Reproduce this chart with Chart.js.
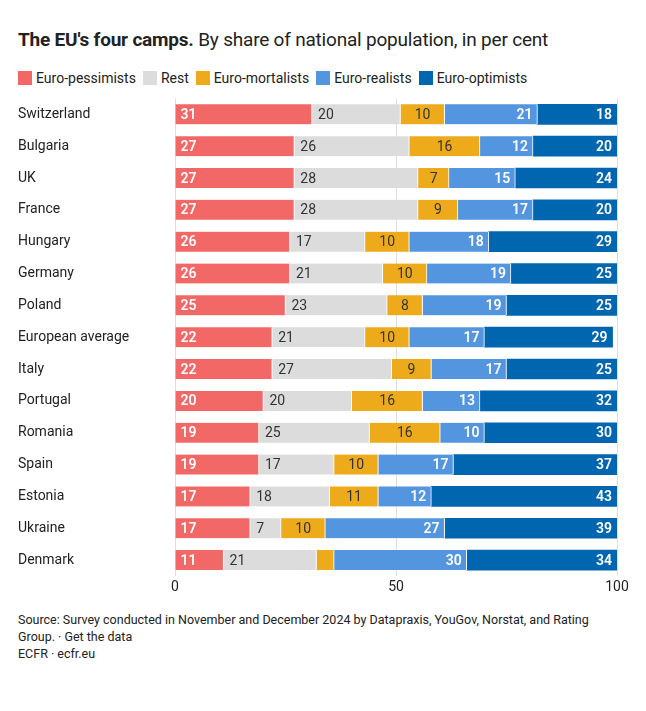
<!DOCTYPE html>
<html>
<head>
<meta charset="utf-8">
<script src="https://cdn.jsdelivr.net/npm/chart.js@4.4.1/dist/chart.umd.min.js"></script>
<style>
  html, body { margin: 0; padding: 0; background: #fff; }
  body { width: 646px; height: 711px; position: relative; overflow: hidden; font-family: Roboto, "Liberation Sans", sans-serif; color: #222; }
  #title { position: absolute; left: 18px; top: 28px; font-size: 19px; white-space: nowrap; letter-spacing: -0.2px; }
  #title b { font-weight: 700; }
  #legend { position: absolute; left: 18px; top: 70px; font-size: 14px; white-space: nowrap; display: flex; }
  #legend span.item { display: inline-flex; align-items: center; margin-right: 7px; }
  #legend span.sw { display: inline-block; width: 14px; height: 14px; margin-right: 4px; }
  #wrap { position: absolute; left: 0; top: 90px; width: 646px; height: 520px; }
  #footer { position: absolute; left: 18px; top: 611px; font-size: 12.5px; line-height: 17px; color: #222; width: 600px; }
</style>
</head>
<body>
<div id="title"><b>The EU's four camps.</b> By share of national population, in per cent</div>
<div id="legend"></div>
<div id="wrap"><canvas id="c"></canvas></div>
<div id="footer">Source: Survey conducted in November and December 2024 by Datapraxis, YouGov, Norstat, and Rating Group. · Get the data<br>ECFR · ecfr.eu</div>
<script>
const categories = ["Switzerland","Bulgaria","UK","France","Hungary","Germany","Poland","European average","Italy","Portugal","Romania","Spain","Estonia","Ukraine","Denmark"];
const seriesNames = ["Euro-pessimists","Rest","Euro-mortalists","Euro-realists","Euro-optimists"];
const pessimists  = [31,27,27,27,26,26,25,22,22,20,19,19,17,17,11];
const rest        = [20,26,28,28,17,21,23,21,27,20,25,17,18,7,21];
const mortalists  = [10,16,7,9,10,10,8,10,9,16,16,10,11,10,4];
const realists    = [21,12,15,17,18,19,19,17,17,13,10,17,12,27,30];
const optimists   = [18,20,24,20,29,25,25,29,25,32,30,37,43,39,34];
const xTicks = [0,50,100];

const colors = ["#f26866","#dcdcdc","#edab1c","#5495e0","#0166b0"];
const labelColors = ["#fff","#333","#333","#fff","#fff"];
const labelAlign = ["start","start","center","end","end"];
const seriesData = [pessimists, rest, mortalists, realists, optimists];

// legend
const lg = document.getElementById('legend');
seriesNames.forEach((n,i)=>{
  const s = document.createElement('span'); s.className='item';
  s.innerHTML = '<span class="sw" style="background:'+colors[i]+'"></span>'+n;
  lg.appendChild(s);
});

const segLabels = {
  id: 'segLabels',
  afterDatasetsDraw(chart) {
    const ctx = chart.ctx;
    ctx.save();
    chart.data.datasets.forEach((ds, di) => {
      const meta = chart.getDatasetMeta(di);
      meta.data.forEach((bar, i) => {
        const left = Math.min(bar.x, bar.base);
        const right = Math.min(Math.max(bar.x, bar.base), chart.chartArea.right);
        const w = right - left;
        if (w < 20) return;
        const white = labelColors[di] === '#fff';
        ctx.font = (white ? '600 ' : '400 ') + '14px Roboto, "Liberation Sans", sans-serif';
        ctx.fillStyle = labelColors[di];
        ctx.textBaseline = 'middle';
        let x;
        if (labelAlign[di] === 'start') { ctx.textAlign = 'left'; x = left + (di === 0 ? 5 : 6); }
        else if (labelAlign[di] === 'end') { ctx.textAlign = 'right'; x = right - 5; }
        else { ctx.textAlign = 'center'; x = (left + right) / 2; }
        ctx.fillText(String(ds.data[i]), x, bar.y + 1);
      });
    });
    ctx.restore();
  }
};

new Chart(document.getElementById('c'), {
  type: 'bar',
  data: {
    labels: categories,
    datasets: seriesNames.map((n,i)=>({
      label: n,
      data: seriesData[i],
      backgroundColor: colors[i],
      borderColor: '#fff',
      borderWidth: i === 4 ? 0 : {left:0, right:1, top:0, bottom:0},
      borderSkipped: false,
      barThickness: 20
    }))
  },
  options: {
    indexAxis: 'y',
    responsive: true,
    maintainAspectRatio: false,
    animation: false,
    layout: { padding: { left: 18, right: 29, top: 6, bottom: 0 } },
    plugins: { legend: { display: false }, tooltip: { enabled: false } },
    scales: {
      x: {
        stacked: true, min: 0, max: 100,
        afterBuildTicks(axis){ axis.ticks = xTicks.map(v=>({value:v})); },
        afterFit(axis){ axis.height = 34; },
        grid: { color: '#dedede', lineWidth: 1, drawTicks: false },
        border: { display: false },
        ticks: { padding: 3, color: '#222', font: { size: 14, family: 'Roboto, "Liberation Sans", sans-serif' } }
      },
      y: {
        stacked: true,
        afterFit(axis){ axis.width = 157; },
        grid: { display: false },
        border: { display: false },
        ticks: { crossAlign: 'far', padding: 0, color: '#222', font: { size: 14, family: 'Roboto, "Liberation Sans", sans-serif' } }
      }
    }
  },
  plugins: [segLabels]
});
</script>
</body>
</html>
